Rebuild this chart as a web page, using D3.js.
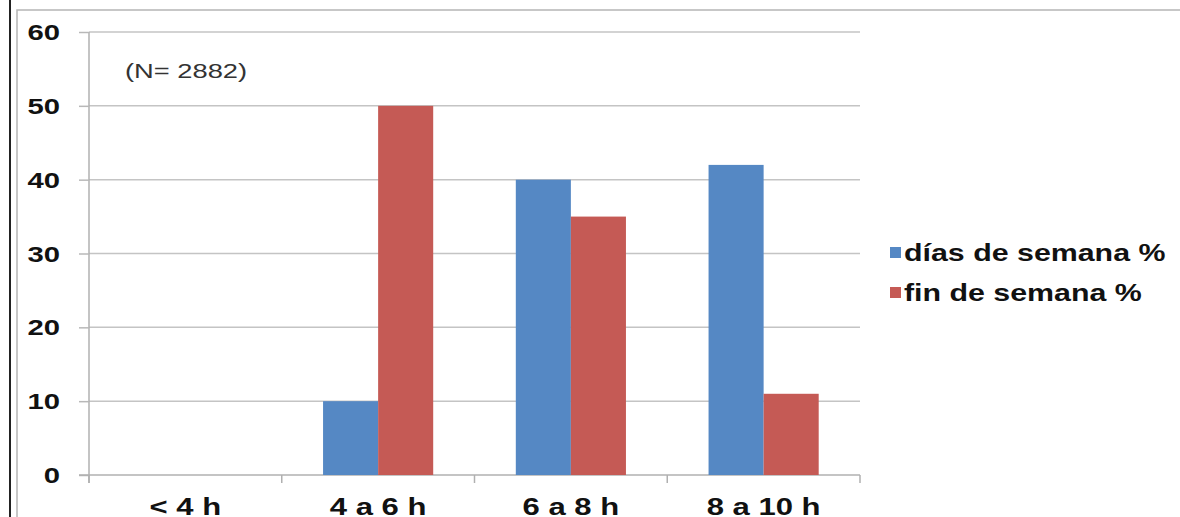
<!DOCTYPE html>
<html>
<head>
<meta charset="utf-8">
<script src="https://cdn.jsdelivr.net/npm/d3@7/dist/d3.min.js"></script>
<style>
  html, body { margin: 0; padding: 0; background: #fff; }
  svg { display: block; }
</style>
</head>
<body>
<svg id="chart" width="1180" height="517"></svg>
<script>
// Horas de sueño: porcentaje por franja, días de semana vs. fin de semana
const categories = ["< 4 h", "4 a 6 h", "6 a 8 h", "8 a 10 h"];
const seriesNames = ["días de semana %", "fin de semana %"];
const diasSemana = [0, 10, 40, 42];
const finSemana = [0, 50, 35, 11];
const yTicks = [0, 10, 20, 30, 40, 50, 60];
const sampleNote = "(N= 2882)";

const colors = ["#5588c4", "#c55a55"];

const svg = d3.select("#chart");

// outer frame
svg.append("line").attr("x1", 10).attr("x2", 10).attr("y1", 0).attr("y2", 517)
  .attr("stroke", "#222").attr("stroke-width", 2);
svg.append("path").attr("d", "M17,517 V10 H1180")
  .attr("fill", "none").attr("stroke", "#b5b5b5").attr("stroke-width", 1.5);

const plot = { left: 89, right: 860, top: 32, bottom: 475 };

const x = d3.scaleBand().domain(categories).range([plot.left, plot.right]).padding(0);
const xInner = d3.scaleBand().domain(seriesNames).range([0, x.bandwidth()])
  .paddingInner(0).paddingOuter(0.75);
const y = d3.scaleLinear().domain([0, 60]).range([plot.bottom, plot.top]);

// horizontally widened text helper
function label(g, px, py, str, opts) {
  return g.append("g")
    .attr("transform", `translate(${px},${py}) scale(${opts.stretch || 1.32},1)`)
    .append("text")
    .attr("text-anchor", opts.anchor || "start")
    .attr("font-family", "'Liberation Sans', Arial, sans-serif")
    .attr("font-size", opts.size)
    .attr("font-weight", opts.weight || "bold")
    .attr("fill", opts.fill || "#111")
    .text(str);
}

// gridlines
svg.append("g").selectAll("line").data(yTicks.filter(d => d > 0)).join("line")
  .attr("x1", plot.left).attr("x2", plot.right)
  .attr("y1", d => y(d)).attr("y2", d => y(d))
  .attr("stroke", "#c4c4c4").attr("stroke-width", 1.5);

// y axis
const yAxis = svg.append("g").attr("transform", `translate(${plot.left},0)`)
  .call(d3.axisLeft(y).tickValues(yTicks).tickSize(10).tickFormat(""));
yAxis.select(".domain").attr("stroke", "#b0b0b0").attr("stroke-width", 1.5)
  .attr("d", `M0,${plot.top}V${plot.bottom + 8}`);
yAxis.selectAll(".tick line").attr("stroke", "#b8b8b8").attr("stroke-width", 1.5);

yTicks.forEach(v => {
  label(svg, 60, y(v) + 8, String(v), { size: 22, anchor: "end", stretch: 1.33 });
});

// x axis
const boundaries = categories.map(c => x(c)).concat([plot.right]);
svg.append("line").attr("x1", plot.left - 10).attr("x2", plot.right)
  .attr("y1", plot.bottom).attr("y2", plot.bottom)
  .attr("stroke", "#b0b0b0").attr("stroke-width", 1.5);
svg.append("g").selectAll("line").data(boundaries).join("line")
  .attr("x1", d => d).attr("x2", d => d)
  .attr("y1", plot.bottom).attr("y2", plot.bottom + 8)
  .attr("stroke", "#b0b0b0").attr("stroke-width", 1.5);

categories.forEach(c => {
  label(svg, x(c) + x.bandwidth() / 2, 515, c, { size: 23, anchor: "middle", stretch: 1.35 });
});

// bars
const seriesValues = [diasSemana, finSemana];
seriesNames.forEach((s, si) => {
  svg.append("g").selectAll("rect").data(categories.map((c, i) => ({ c, v: seriesValues[si][i] })))
    .join("rect")
    .attr("x", d => x(d.c) + xInner(s))
    .attr("width", xInner.bandwidth())
    .attr("y", d => y(d.v))
    .attr("height", d => y(0) - y(d.v))
    .attr("fill", colors[si]);
});

// sample size note
label(svg, 125, 78, sampleNote, { size: 21, anchor: "start", weight: "normal", fill: "#333", stretch: 1.3 });

// legend
const legendY = [247, 287];
seriesNames.forEach((s, i) => {
  svg.append("rect").attr("x", 890).attr("y", legendY[i]).attr("width", 11).attr("height", 11)
    .attr("fill", colors[i]);
  label(svg, 904, legendY[i] + 14, s, { size: 23, anchor: "start", stretch: 1.32 });
});
</script>
</body>
</html>
